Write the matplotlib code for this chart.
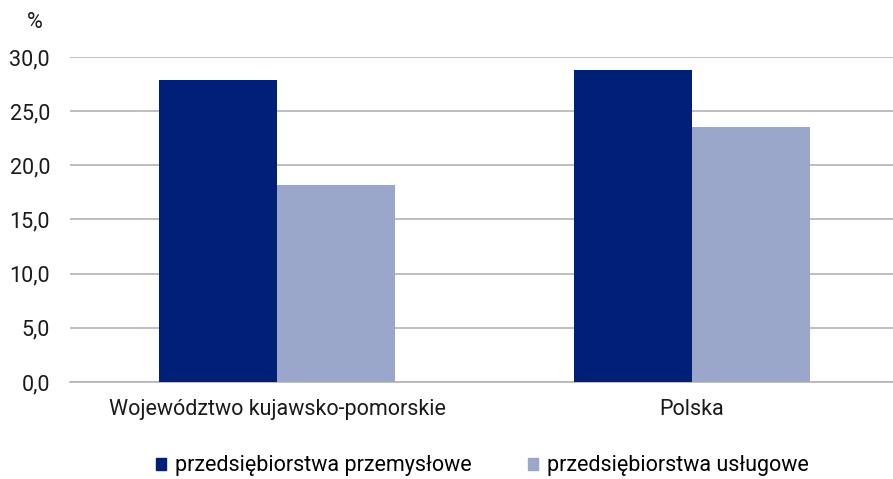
import matplotlib
matplotlib.use("Agg")
import matplotlib.pyplot as plt
import numpy as np
from matplotlib.patches import Patch


categories = ["Województwo kujawsko-pomorskie", "Polska"]
industrial = [27.9, 28.8]
services = [18.2, 23.5]
series_labels = ["przedsiębiorstwa przemysłowe", "przedsiębiorstwa usługowe"]
y_ticks = [0, 5, 10, 15, 20, 25, 30]

DARK = "#001f77"
LIGHT = "#9aa7ca"
GRID = "#b4b4b4"
TEXT = "#1a1a1a"
FS = 15.5

plt.rcParams["font.family"] = ["Roboto", "DejaVu Sans"]
plt.rcParams["font.size"] = FS

fig = plt.figure(figsize=(8.93, 4.79), dpi=100)
ax = fig.add_axes([69.5 / 893, 97 / 479, 1 - 69.5 / 893, 325 / 479])

x = np.arange(len(categories))
width = 0.285
ax.bar(x - width / 2, industrial, width, color=DARK, zorder=3)
ax.bar(x + width / 2, services, width, color=LIGHT, zorder=3)

ax.set_xlim(-0.5, (893 - 69.5) / 415 - 0.5)
ax.set_ylim(0, 30)
ax.set_yticks(y_ticks, labels=[f"{v:.1f}".replace(".", ",") for v in y_ticks])
ax.set_xticks(x, labels=categories)
ax.tick_params(axis="both", length=0, colors=TEXT, labelsize=FS)
ax.tick_params(axis="y", pad=14)
ax.tick_params(axis="x", pad=12)
ax.grid(axis="y", color=GRID, linewidth=1.2, zorder=0)
for side in ["top", "right", "left"]:
    ax.spines[side].set_visible(False)
ax.spines["bottom"].set_color(GRID)
ax.spines["bottom"].set_linewidth(1.2)

fig.text(35 / 893, 1 - 23 / 479, "%", ha="center", va="center", fontsize=FS, color=TEXT)

handles = [Patch(color=DARK), Patch(color=LIGHT)]
fig.legend(handles, series_labels, loc="center", bbox_to_anchor=(0.540, 1 - 466 / 479),
           ncol=2, frameon=False, fontsize=FS, handlelength=0.5, handleheight=0.5,
           handletextpad=0.4, columnspacing=2.6)

fig.savefig("out.png", dpi=100)
